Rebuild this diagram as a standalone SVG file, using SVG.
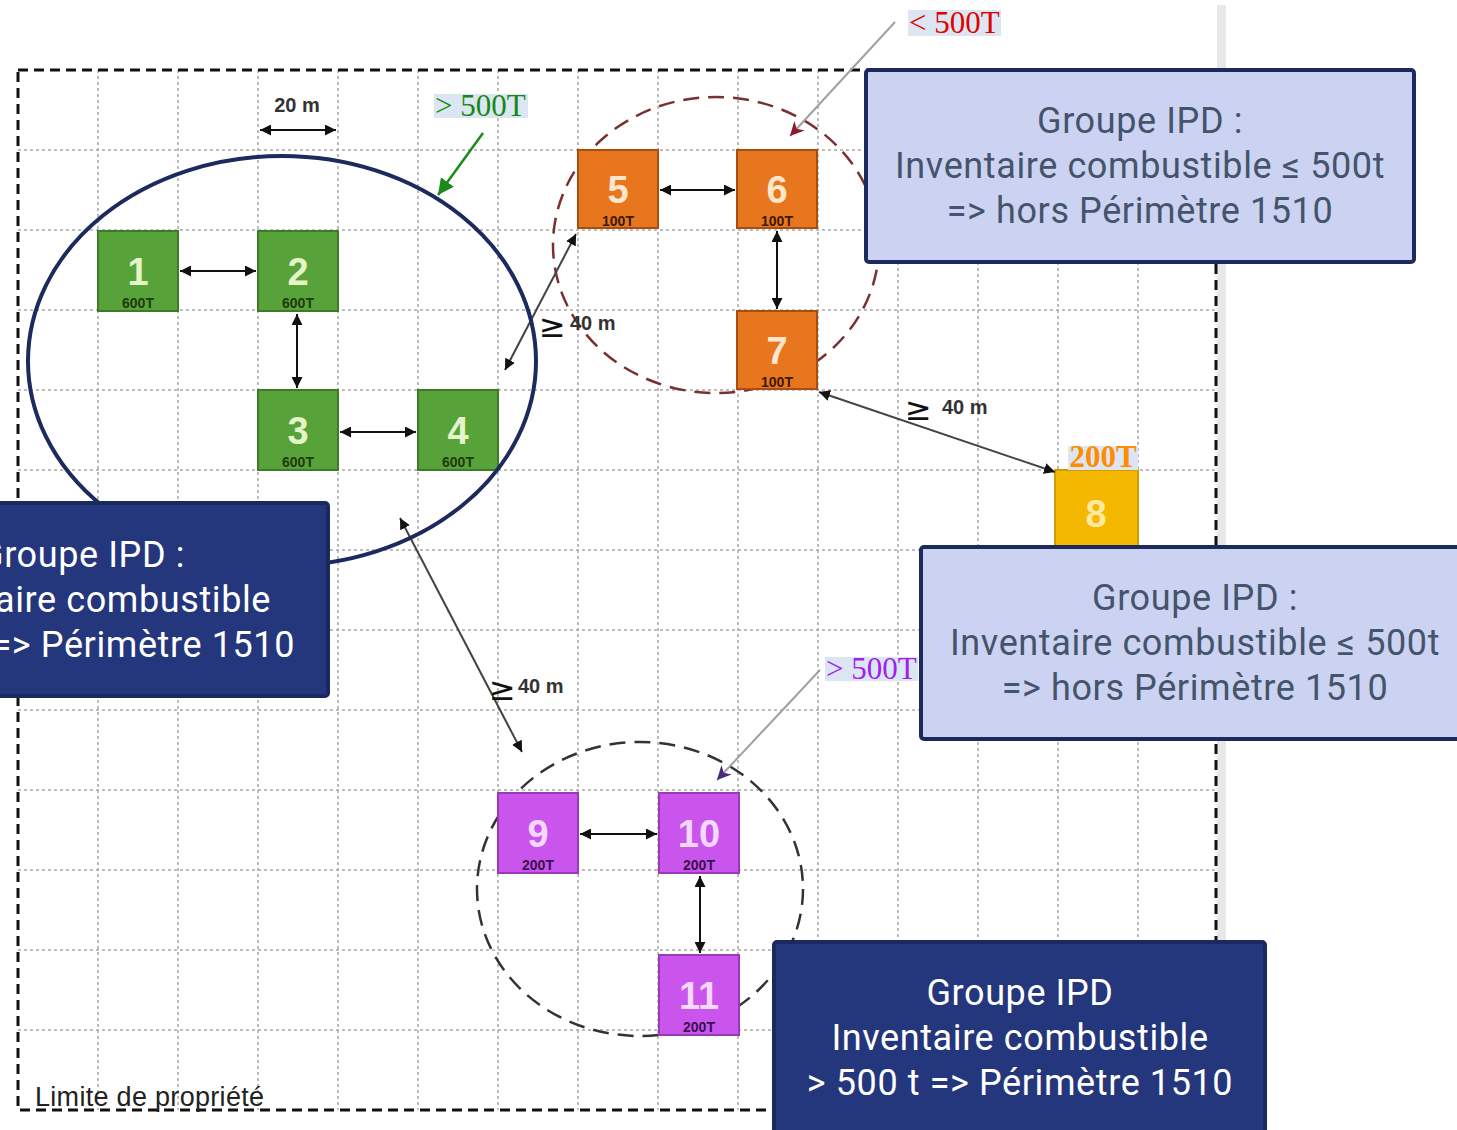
<svg xmlns="http://www.w3.org/2000/svg" width="1457" height="1130" viewBox="0 0 1457 1130">
<defs>
<marker id="ah" viewBox="0 0 10 10" refX="10" refY="5" markerWidth="11" markerHeight="11" markerUnits="userSpaceOnUse" orient="auto-start-reverse"><path d="M0,0 L10,5 L0,10 z" fill="#111"/></marker>
<marker id="ahg" viewBox="0 0 10 10" refX="10" refY="5" markerWidth="16" markerHeight="16" markerUnits="userSpaceOnUse" orient="auto"><path d="M0,0 L10,5 L0,10 z" fill="#1a8a1a"/></marker>
<marker id="ahr" viewBox="0 0 10 10" refX="10" refY="5" markerWidth="14" markerHeight="14" markerUnits="userSpaceOnUse" orient="auto"><path d="M0,0 L10,5 L0,10 L3,5 z" fill="#8b1a2a"/></marker>
<marker id="ahp" viewBox="0 0 10 10" refX="10" refY="5" markerWidth="14" markerHeight="14" markerUnits="userSpaceOnUse" orient="auto"><path d="M0,0 L10,5 L0,10 L3,5 z" fill="#4a2a7a"/></marker>
<style>
.grid{stroke:#a8a8a8;stroke-width:1.5;stroke-dasharray:3 3;fill:none}
.border{stroke:#111;stroke-width:3;stroke-dasharray:10 6;fill:none}
.sq{stroke-width:2}
.g{fill:#58a23a;stroke:#3e7a28}
.o{fill:#e8761e;stroke:#a84e10}
.y{fill:#f5b800;stroke:#d49a00}
.p{fill:#c955ec;stroke:#9a3ab8}
.num{font-family:"Liberation Sans",Arial,sans-serif;font-weight:bold;font-size:38px;text-anchor:middle}
.sub{font-family:"Liberation Sans",Arial,sans-serif;font-weight:bold;font-size:14px;text-anchor:middle}
.arr{stroke:#111;stroke-width:2;fill:none;marker-start:url(#ah);marker-end:url(#ah)}
.darr{stroke:#444;stroke-width:2;fill:none;marker-start:url(#ah);marker-end:url(#ah)}
.lbl{font-family:"Liberation Serif","Times New Roman",serif;font-size:31px}
.ge{font-family:"DejaVu Sans",sans-serif;font-size:32px;fill:#111}
.sm{font-family:"Liberation Sans",Arial,sans-serif;font-size:20px;fill:#333;font-weight:bold}
.bx{font-family:Roboto,"Noto Sans",sans-serif;font-size:36px;letter-spacing:0.6px}
.lt{fill:#ccd3f2;stroke:#1c2a5e;stroke-width:4}
.dk{fill:#24367c;stroke:#1a2a5e;stroke-width:4}
</style>
</defs>
<rect x="0" y="0" width="1457" height="1130" fill="#fff"/>
<rect x="1217" y="5" width="9" height="1125" fill="#e8e8e8"/>
<g id="grid">
<path class="grid" d="M98,70V1110M178,70V1110M258,70V1110M338,70V1110M418,70V1110M498,70V1110M578,70V1110M658,70V1110M738,70V1110M818,70V1110M898,70V1110M978,70V1110M1058,70V1110M1138,70V1110"/>
<path class="grid" d="M18,150H1218M18,230H1218M18,310H1218M18,390H1218M18,470H1218M18,550H1218M18,630H1218M18,710H1218M18,790H1218M18,870H1218M18,950H1218M18,1030H1218"/>
<rect class="border" x="18" y="70" width="1198" height="1040"/>
</g>
<g id="zones">
<ellipse cx="716" cy="245" rx="163" ry="148" fill="none" stroke="#7a3030" stroke-width="2.5" stroke-dasharray="16 9"/>
<ellipse cx="640" cy="889" rx="163" ry="147" fill="none" stroke="#333" stroke-width="2.5" stroke-dasharray="16 9"/>
</g>
<g id="n1"><rect class="sq g" x="98" y="231" width="80" height="80"/><text class="num" x="138" y="285" fill="#e6f5c8">1</text><text class="sub" x="138" y="308" fill="#1e3a0e">600T</text></g>
<g id="n2"><rect class="sq g" x="258" y="231" width="80" height="80"/><text class="num" x="298" y="285" fill="#e6f5c8">2</text><text class="sub" x="298" y="308" fill="#1e3a0e">600T</text></g>
<g id="n3"><rect class="sq g" x="258" y="390" width="80" height="80"/><text class="num" x="298" y="444" fill="#e6f5c8">3</text><text class="sub" x="298" y="467" fill="#1e3a0e">600T</text></g>
<g id="n4"><rect class="sq g" x="418" y="390" width="80" height="80"/><text class="num" x="458" y="444" fill="#e6f5c8">4</text><text class="sub" x="458" y="467" fill="#1e3a0e">600T</text></g>
<g id="n5"><rect class="sq o" x="578" y="150" width="80" height="78"/><text class="num" x="618" y="203" fill="#fde6cc">5</text><text class="sub" x="618" y="226" fill="#3a1a00">100T</text></g>
<g id="n6"><rect class="sq o" x="737" y="150" width="80" height="78"/><text class="num" x="777" y="203" fill="#fde6cc">6</text><text class="sub" x="777" y="226" fill="#3a1a00">100T</text></g>
<g id="n7"><rect class="sq o" x="737" y="311" width="80" height="78"/><text class="num" x="777" y="364" fill="#fde6cc">7</text><text class="sub" x="777" y="387" fill="#3a1a00">100T</text></g>
<g id="n8"><rect class="sq y" x="1055" y="470" width="83" height="76"/><text class="num" x="1096" y="527" fill="#fde9a0">8</text>
<rect x="1068" y="446" width="70" height="24" fill="#dce6f2"/><text class="lbl" x="1103" y="467" text-anchor="middle" fill="#ff8c00" font-weight="bold" font-size="28">200T</text></g>
<g id="n9"><rect class="sq p" x="498" y="793" width="80" height="80"/><text class="num" x="538" y="847" fill="#f5d8ff">9</text><text class="sub" x="538" y="870" fill="#3a1050">200T</text></g>
<g id="n10"><rect class="sq p" x="659" y="793" width="80" height="80"/><text class="num" x="699" y="847" fill="#f5d8ff">10</text><text class="sub" x="699" y="870" fill="#3a1050">200T</text></g>
<g id="n11"><rect class="sq p" x="659" y="955" width="80" height="80"/><text class="num" x="699" y="1009" fill="#f5d8ff">11</text><text class="sub" x="699" y="1032" fill="#3a1050">200T</text></g>
<g id="connectors">
<line class="arr" x1="180" y1="271" x2="256" y2="271"/>
<line class="arr" x1="297" y1="314" x2="297" y2="388"/>
<line class="arr" x1="340" y1="432" x2="416" y2="432"/>
<line class="arr" x1="660" y1="190" x2="735" y2="190"/>
<line class="arr" x1="777" y1="231" x2="777" y2="309"/>
<line class="arr" x1="580" y1="834" x2="657" y2="834"/>
<line class="arr" x1="700" y1="876" x2="700" y2="953"/>
<line class="arr" x1="260" y1="130" x2="336" y2="130"/>
<line class="darr" x1="576" y1="234" x2="505" y2="370"/>
<line class="darr" x1="819" y1="392" x2="1055" y2="472"/>
<line class="darr" x1="400" y1="518" x2="522" y2="752"/>
<line x1="483" y1="133" x2="438" y2="195" stroke="#1a8a1a" stroke-width="2.5" marker-end="url(#ahg)"/>
<line x1="895" y1="22" x2="790" y2="136" stroke="#a0a0a0" stroke-width="2" marker-end="url(#ahr)"/>
<line x1="820" y1="670" x2="717" y2="780" stroke="#a0a0a0" stroke-width="2" marker-end="url(#ahp)"/>
</g>
<g id="group-green">
<ellipse cx="282" cy="361" rx="254" ry="205" fill="none" stroke="#1c2a5e" stroke-width="4"/>
</g>
<g id="labels">
<text class="sm" x="297" y="112" text-anchor="middle" font-size="21" font-weight="normal" fill="#222">20 m</text>
<text class="ge" x="539" y="337">≥</text><text class="sm" x="570" y="330" font-size="18">40 m</text>
<text class="ge" x="905" y="420">≥</text><text class="sm" x="942" y="414" font-size="18">40 m</text>
<text class="ge" x="489" y="700">≥</text><text class="sm" x="518" y="693" font-size="18">40 m</text>
<rect x="908" y="10" width="93" height="26" fill="#dce6f2"/><text class="lbl" x="909" y="33" fill="#e00000">&lt; 500T</text>
<rect x="434" y="94" width="94" height="24" fill="#dce6f2"/><text class="lbl" x="435" y="116" fill="#148a14">&gt; 500T</text>
<rect x="825" y="657" width="93" height="24" fill="#dce6f2"/><text class="lbl" x="826" y="679" fill="#a020f0">&gt; 500T</text>
<text x="35" y="1106" font-family="'Liberation Sans',Arial,sans-serif" font-size="27" letter-spacing="0.3" fill="#222">Limite de propriété</text>
</g>
<g id="box-ne">
<rect class="lt" x="866" y="70" width="548" height="192" rx="3"/>
<text class="bx" fill="#44546a" text-anchor="middle"><tspan x="1140" y="133">Groupe IPD :</tspan><tspan x="1140" y="178">Inventaire combustible ≤ 500t</tspan><tspan x="1140" y="223">=&gt; hors Périmètre 1510</tspan></text>
</g>
<g id="box-e">
<rect class="lt" x="921" y="547" width="560" height="192" rx="3"/>
<text class="bx" fill="#44546a" text-anchor="middle"><tspan x="1195" y="610">Groupe IPD :</tspan><tspan x="1195" y="655">Inventaire combustible ≤ 500t</tspan><tspan x="1195" y="700">=&gt; hors Périmètre 1510</tspan></text>
</g>
<g id="box-w">
<rect class="dk" x="-20" y="503" width="348" height="193" rx="3"/>
<text class="bx" fill="#fff" text-anchor="end"><tspan x="185" y="567">Groupe IPD :</tspan><tspan x="271" y="612">Inventaire combustible</tspan><tspan x="295" y="657">=&gt; Périmètre 1510</tspan></text>
</g>
<g id="box-s">
<rect class="dk" x="774" y="942" width="491" height="200" rx="3"/>
<text class="bx" fill="#fff" text-anchor="middle"><tspan x="1020" y="1005">Groupe IPD</tspan><tspan x="1020" y="1050">Inventaire combustible</tspan><tspan x="1020" y="1095">&gt; 500 t =&gt; Périmètre 1510</tspan></text>
</g>
</svg>
